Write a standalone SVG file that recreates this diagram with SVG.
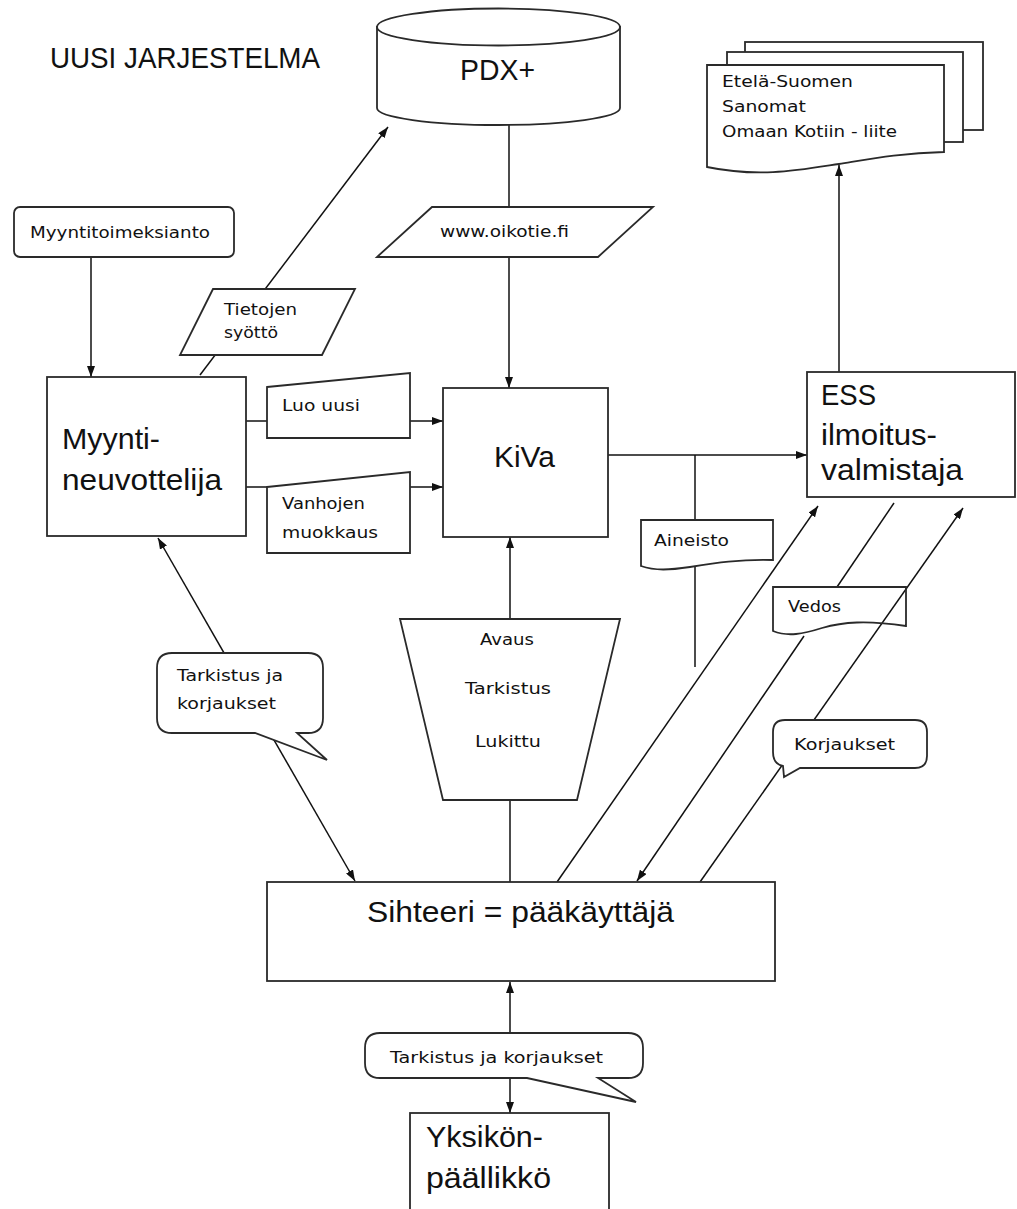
<svg xmlns="http://www.w3.org/2000/svg" width="1017" height="1209" viewBox="0 0 1017 1209">
<style>
.shape{fill:#fff;stroke:#2a2a2a;stroke-width:1.8}
.open{fill:none;stroke:#2a2a2a;stroke-width:1.8}
.conn{fill:none;stroke:#111;stroke-width:1.5}
.big{font-family:"Liberation Sans",Arial,sans-serif;font-size:30px;fill:#111}
.small{font-family:"DejaVu Sans","Liberation Sans",sans-serif;font-size:15px;fill:#111}
</style>
<defs>
<marker id="arr" markerWidth="11" markerHeight="8" refX="11" refY="4" orient="auto-start-reverse" markerUnits="userSpaceOnUse">
<path d="M0,0 L11,4 L0,8 Z" fill="#111"/>
</marker>
</defs>
<rect width="1017" height="1209" fill="#fff"/>

<text class="big" x="50" y="68" font-size="28" textLength="270" lengthAdjust="spacingAndGlyphs">UUSI JARJESTELMA</text>

<g id="connectors">
<path class="conn" d="M91,257 L91,377" marker-end="url(#arr)"/>
<path class="conn" d="M200,375 L388,127" marker-end="url(#arr)"/>
<path class="conn" d="M509,125 L509,388" marker-end="url(#arr)"/>
<path class="conn" d="M246,421 L443,421" marker-end="url(#arr)"/>
<path class="conn" d="M246,487 L443,487" marker-end="url(#arr)"/>
<path class="conn" d="M608,455 L807,455" marker-end="url(#arr)"/>
<path class="conn" d="M695,455 L695,667"/>
<path class="conn" d="M510,882 L510,537" marker-end="url(#arr)"/>
<path class="conn" d="M557,882 L818,506" marker-end="url(#arr)"/>
<path class="conn" d="M894,503 L837,587"/>
<path class="conn" d="M804,636 L637,881" marker-end="url(#arr)"/>
<path class="conn" d="M700,882 L963,508" marker-end="url(#arr)"/>
<path class="conn" d="M355,881 L158,538" marker-start="url(#arr)" marker-end="url(#arr)"/>
<path class="conn" d="M510,982 L510,1113" marker-start="url(#arr)" marker-end="url(#arr)"/>
<path class="conn" d="M839,372 L839,165" marker-end="url(#arr)"/>
</g>

<g id="pdx">
<path class="shape" d="M377,27 V108 A121.5,17 0 0 0 620,108 V27 Z"/>
<ellipse class="shape" cx="498.5" cy="27" rx="121.5" ry="18.5"/>
<text class="big" x="460" y="80" textLength="75" lengthAdjust="spacingAndGlyphs">PDX+</text>
</g>

<g id="oikotie">
<polygon class="shape" points="432,207 653,207 598,257 377,257"/>
<text class="small" x="440" y="237" textLength="129" lengthAdjust="spacingAndGlyphs">www.oikotie.fi</text>
</g>

<g id="ess-lehti">
<rect class="shape" x="745" y="42" width="238" height="88"/>
<rect class="shape" x="727" y="52" width="236" height="90"/>
<path class="shape" d="M707,65 H944 V152 C900,153 870,159 839,164 C800,170 760,178 707,167 Z"/>
<text class="small" x="722" y="87" textLength="131" lengthAdjust="spacingAndGlyphs">Etelä-Suomen</text>
<text class="small" x="722" y="112" textLength="84" lengthAdjust="spacingAndGlyphs">Sanomat</text>
<text class="small" x="722" y="137" textLength="175" lengthAdjust="spacingAndGlyphs">Omaan Kotiin - liite</text>
</g>

<g id="myyntitoimeksianto">
<rect class="shape" x="14" y="207" width="220" height="50" rx="6"/>
<text class="small" x="30" y="238" textLength="180" lengthAdjust="spacingAndGlyphs">Myyntitoimeksianto</text>
</g>

<g id="tietojen">
<polygon class="shape" points="213,289 355,289 322,355 180,355"/>
<text class="small" x="224" y="315" textLength="73" lengthAdjust="spacingAndGlyphs">Tietojen</text>
<text class="small" x="224" y="338" textLength="54" lengthAdjust="spacingAndGlyphs">syöttö</text>
</g>

<g id="myyntineuvottelija">
<rect class="shape" x="47" y="377" width="199" height="159"/>
<text class="big" x="62" y="449" textLength="98" lengthAdjust="spacingAndGlyphs">Myynti-</text>
<text class="big" x="62" y="490" textLength="160" lengthAdjust="spacingAndGlyphs">neuvottelija</text>
</g>

<g id="luouusi">
<polygon class="shape" points="267,387 410,373 410,438 267,438"/>
<text class="small" x="282" y="411" textLength="78" lengthAdjust="spacingAndGlyphs">Luo uusi</text>
</g>

<g id="vanhojen">
<polygon class="shape" points="267,487 410,472 410,553 267,553"/>
<text class="small" x="282" y="509" textLength="83" lengthAdjust="spacingAndGlyphs">Vanhojen</text>
<text class="small" x="282" y="538" textLength="96" lengthAdjust="spacingAndGlyphs">muokkaus</text>
</g>

<g id="kiva">
<rect class="shape" x="443" y="388" width="165" height="149"/>
<text class="big" x="494" y="467" textLength="61" lengthAdjust="spacingAndGlyphs">KiVa</text>
</g>

<g id="ess">
<rect class="shape" x="807" y="372" width="208" height="125"/>
<text class="big" x="821" y="405" font-size="29" textLength="55" lengthAdjust="spacingAndGlyphs">ESS</text>
<text class="big" x="821" y="445" font-size="29" textLength="116" lengthAdjust="spacingAndGlyphs">ilmoitus-</text>
<text class="big" x="821" y="480" font-size="29" textLength="142" lengthAdjust="spacingAndGlyphs">valmistaja</text>
</g>

<g id="aineisto">
<path class="shape" d="M641,520 H773 V560 C740,559 715,563 690,567 C670,570 655,571 641,566 Z"/>
<text class="small" x="654" y="546" textLength="75" lengthAdjust="spacingAndGlyphs">Aineisto</text>
</g>

<g id="vedos">
<path class="open" d="M773,587 H906 V626 C866,620 843,622 822,628 C803,634 788,637 773,631 Z"/>
<text class="small" x="788" y="612" textLength="53" lengthAdjust="spacingAndGlyphs">Vedos</text>
</g>

<g id="tila">
<polygon class="shape" points="400,619 620,619 577,800 443,800"/>
<text class="small" x="480" y="645" textLength="54" lengthAdjust="spacingAndGlyphs">Avaus</text>
<text class="small" x="465" y="694" textLength="86" lengthAdjust="spacingAndGlyphs">Tarkistus</text>
<text class="small" x="475" y="747" textLength="66" lengthAdjust="spacingAndGlyphs">Lukittu</text>
</g>

<g id="tarkistus-vasen">
<path class="shape" d="M172,653 H308 Q323,653 323,668 V718 Q323,733 308,733 H297 L327,760 L255,733 H172 Q157,733 157,718 V668 Q157,653 172,653 Z"/>
<text class="small" x="177" y="681" textLength="106" lengthAdjust="spacingAndGlyphs">Tarkistus ja</text>
<text class="small" x="177" y="709" textLength="99" lengthAdjust="spacingAndGlyphs">korjaukset</text>
</g>

<g id="korjaukset">
<path class="shape" d="M785,720 H915 Q927,720 927,732 V756 Q927,768 915,768 H800 L784,777 L783,766 Q773,764 773,752 V732 Q773,720 785,720 Z"/>
<text class="small" x="794" y="750" textLength="101" lengthAdjust="spacingAndGlyphs">Korjaukset</text>
</g>

<g id="sihteeri">
<rect class="shape" x="267" y="882" width="508" height="99"/>
<text class="big" x="367" y="922" textLength="307" lengthAdjust="spacingAndGlyphs">Sihteeri = pääkäyttäjä</text>
</g>

<g id="tarkistus-ala">
<path class="shape" d="M380,1033 H628 Q643,1033 643,1048 V1063 Q643,1078 628,1078 H598 L636,1102 L527,1078 H380 Q365,1078 365,1063 V1048 Q365,1033 380,1033 Z"/>
<text class="small" x="390" y="1063" textLength="213" lengthAdjust="spacingAndGlyphs">Tarkistus ja korjaukset</text>
</g>

<g id="yksikon">
<rect class="shape" x="410" y="1113" width="199" height="110"/>
<text class="big" x="426" y="1147" textLength="117" lengthAdjust="spacingAndGlyphs">Yksikön-</text>
<text class="big" x="426" y="1188" textLength="125" lengthAdjust="spacingAndGlyphs">päällikkö</text>
</g>
</svg>
